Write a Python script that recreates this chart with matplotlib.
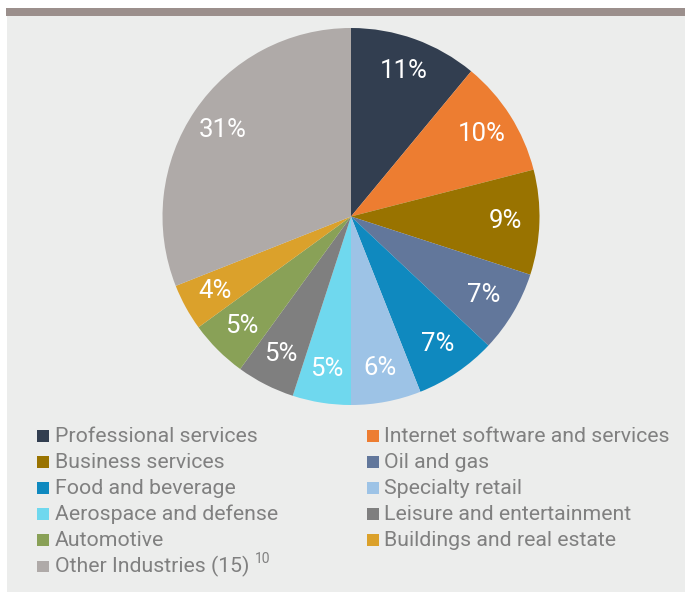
import matplotlib
matplotlib.use("Agg")
import matplotlib.pyplot as plt
from matplotlib.patches import Rectangle

categories = ["Professional services", "Internet software and services", "Business services",
              "Oil and gas", "Food and beverage", "Specialty retail", "Aerospace and defense",
              "Leisure and entertainment", "Automotive", "Buildings and real estate",
              "Other Industries (15)"]
values = [11, 10, 9, 7, 7, 6, 5, 5, 5, 4, 31]
colors = ["#323e50", "#ed7d31", "#997300", "#62779b", "#0f89bf", "#9dc3e6", "#6fd8ee",
          "#7f7f7f", "#89a157", "#dba12b", "#afaaa8"]
footnote = "10"

W, H = 685, 592
fig = plt.figure(figsize=(W / 100, H / 100), dpi=100)
fig.patch.set_facecolor("white")

def fx(px):
    return px / W

def fy(py):
    return 1 - py / H

# panel background and top bar
fig.patches.append(Rectangle((fx(7), 0), 1 - fx(7), fy(16), transform=fig.transFigure,
                             facecolor="#ecedec", edgecolor="none", zorder=-10))
fig.patches.append(Rectangle((fx(6), fy(16)), 1 - fx(6), 8 / H, transform=fig.transFigure,
                             facecolor="#9b8f8c", edgecolor="none", zorder=-10))

cx, cy, R = 351, 216.5, 188.5
ax = fig.add_axes([fx(cx - R), fy(cy + R), 2 * R / W, 2 * R / H])
ax.set_zorder(1)
ax.set_facecolor("none")
wedges, texts, autotexts = ax.pie(values, colors=colors, startangle=90, counterclock=False,
                                  autopct=lambda p: f"{p:.0f}%", pctdistance=0.82,
                                  wedgeprops=dict(linewidth=0, antialiased=True),
                                  textprops=dict(color="white", fontsize=18.5, family="Roboto"))
ax.set_xlim(-1, 1)
ax.set_ylim(-1, 1)
ax.set_aspect("equal")
ax.axis("off")

# legend (two columns, row-major)
col_sq = [37.3, 367.3]
col_tx = [55, 384.3]
base0 = 441.7
step = 26.1
sq = 11.7
for i, (lab, c) in enumerate(zip(categories, colors)):
    r, col = divmod(i, 2)
    base = base0 + r * step
    fig.patches.append(Rectangle((fx(col_sq[col]), fy(base)), sq / W, sq / H,
                                 transform=fig.transFigure, facecolor=c, edgecolor="none",
                                 zorder=2))
    t = fig.text(fx(col_tx[col]), fy(base), lab, fontsize=15.3, family="Roboto",
                 color="#808080", va="baseline", ha="left", zorder=2)
    if i == len(categories) - 1:
        fig.canvas.draw()
        bb = t.get_window_extent()
        fig.text((bb.x1 + 6) / W, fy(base - 9), footnote, fontsize=10, family="Roboto",
                 color="#808080", va="baseline", ha="left", zorder=2)

fig.savefig("out.png", dpi=100, facecolor="white")
